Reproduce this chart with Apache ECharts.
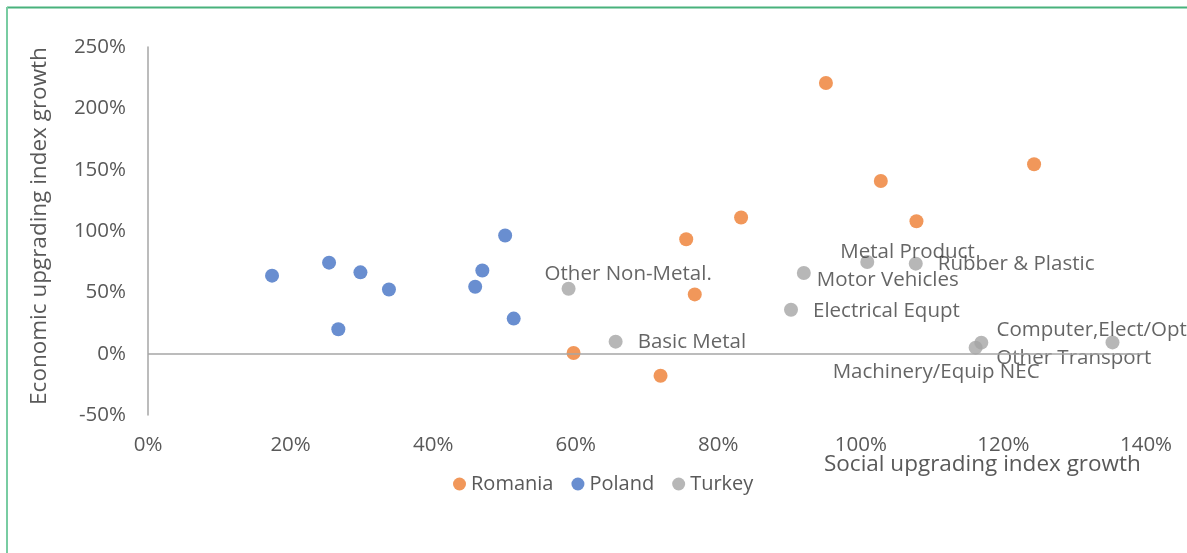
<!DOCTYPE html>
<html>
<head>
<meta charset="utf-8">
<script src="https://cdn.jsdelivr.net/npm/echarts@6/dist/echarts.min.js"></script>
<style>
html,body{margin:0;padding:0;background:#fff;}
#chart{width:1187px;height:553px;}
</style>
</head>
<body>
<div id="chart"></div>
<script>
// ---- data (values in %) ----
const romaniaX = [95.1, 124.3, 102.8, 107.8, 83.2, 75.5, 76.7, 59.7, 71.9];
const romaniaY = [220.7, 154.4, 140.8, 108.0, 111.0, 93.3, 48.3, 0.6, -18.0];
const polandX = [17.4, 25.4, 29.8, 33.8, 26.7, 50.1, 46.9, 45.9, 51.3];
const polandY = [63.6, 74.2, 66.3, 52.3, 19.9, 96.3, 67.8, 54.6, 28.6];
const turkeyNames = ['Other Non-Metal.', 'Basic Metal', 'Motor Vehicles', 'Metal Product', 'Rubber & Plastic', 'Electrical Equpt', 'Machinery/Equip NEC', 'Other Transport', 'Computer,Elect/Opt'];
const turkeyX = [59.0, 65.6, 92.0, 100.9, 107.7, 90.2, 116.1, 116.9, 135.3];
const turkeyY = [52.9, 9.8, 65.7, 74.7, 73.4, 35.8, 4.9, 9.0, 9.2];
const seriesNames = ['Romania', 'Poland', 'Turkey'];
const xTicks = [0, 20, 40, 60, 80, 100, 120, 140];
const yTicks = [-50, 0, 50, 100, 150, 200, 250];
const xTitle = 'Social upgrading index growth';
const yTitle = 'Economic upgrading index growth';

// ---- styling ----
const FONT = '"Open Sans"';
const colors = ['#ED7D31', '#4472C4', '#A5A5A5'];
// label offsets (pixels) for Turkey data labels, keyed by name
const labelOffsets = {
  'Other Non-Metal.': [-31, -15],
  'Basic Metal': [15, 1],
  'Motor Vehicles': [6, 7],
  'Metal Product': [-34, -10],
  'Rubber & Plastic': [15, 1],
  'Electrical Equpt': [15, 1],
  'Machinery/Equip NEC': [-150, 25],
  'Other Transport': [8, 16],
  'Computer,Elect/Opt': [-123, -12]
};

const zip = (xs, ys) => xs.map((x, i) => [x, ys[i]]);
const turkeyData = turkeyX.map((x, i) => ({ value: [x, turkeyY[i]], name: turkeyNames[i] }));

const chart = echarts.init(document.getElementById('chart'));
const option = {
  animation: false,
  textStyle: { fontFamily: FONT },
  grid: { left: 148, right: 41, top: 47, bottom: 138 },
  color: colors,
  legend: {
    data: seriesNames,
    left: 448, top: 469,
    icon: 'circle', itemWidth: 13, itemHeight: 13, itemGap: 18, itemTextGap: 5,
    textStyle: { fontFamily: FONT, fontSize: 20, color: '#595959' }
  },
  xAxis: {
    type: 'value', min: 0, max: 140, interval: 20,
    axisLine: { show: false },
    axisTick: { show: false },
    splitLine: { show: false },
    axisLabel: { formatter: v => xTicks.includes(v) ? v + '%' : '', color: '#595959', fontSize: 20.5, fontFamily: FONT, margin: 20 }
  },
  yAxis: {
    type: 'value', min: -50, max: 250, interval: 50,
    axisLine: { show: true, onZero: false, lineStyle: { color: '#a6a6a6', width: 1.5 } },
    axisTick: { show: false },
    splitLine: { show: false },
    axisLabel: { formatter: v => yTicks.includes(v) ? v + '%' : '', color: '#595959', fontSize: 20.5, fontFamily: FONT, margin: 22 }
  },
  graphic: [
    { type: 'line', shape: { x1: 7, y1: 7.5, x2: 1187, y2: 7.5 }, style: { stroke: '#48b27c', lineWidth: 2 } },
    { type: 'line', shape: { x1: 7, y1: 7, x2: 7, y2: 553 }, style: { stroke: '#78cca2', lineWidth: 2 } },
    { type: 'text', left: 824, top: 453, style: { text: xTitle, fill: '#595959', font: '22.5px ' + FONT } },
    { type: 'text', x: 40, y: 226, rotation: Math.PI / 2, style: { text: yTitle, fill: '#595959', font: '22.5px ' + FONT, align: 'center', verticalAlign: 'middle' } }
  ],
  series: [
    {
      name: seriesNames[0], type: 'scatter', symbolSize: 14, data: zip(romaniaX, romaniaY), z: 3,
      markLine: {
        silent: true, symbol: 'none', label: { show: false },
        lineStyle: { color: '#a6a6a6', width: 1.5, type: 'solid' },
        data: [{ yAxis: 0 }]
      }
    },
    { name: seriesNames[1], type: 'scatter', symbolSize: 14, data: zip(polandX, polandY), z: 3 },
    {
      name: seriesNames[2], type: 'scatter', symbolSize: 14, data: turkeyData, z: 3,
      label: {
        show: true, position: 'right', distance: 0,
        formatter: p => p.name, color: '#3f3f3f', fontSize: 20.5, fontFamily: FONT
      },
      labelLayout: p => {
        const o = labelOffsets[turkeyNames[p.dataIndex]] || [0, 0];
        return { dx: o[0], dy: o[1], hideOverlap: false };
      }
    }
  ]
};
chart.setOption(option);
</script>
</body>
</html>
